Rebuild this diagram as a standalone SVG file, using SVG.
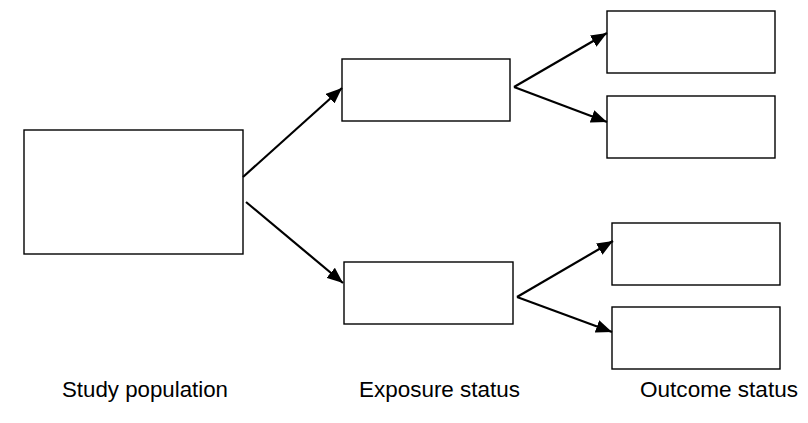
<svg xmlns="http://www.w3.org/2000/svg" width="808" height="423" viewBox="0 0 808 423">
<style>
.box{fill:#fff;stroke:#000;stroke-width:1.4}
.arr{stroke:#000;stroke-width:2.2;fill:none;marker-end:url(#ah)}
.lbl{font-family:"Liberation Sans",Arial,sans-serif;font-size:21.5px;fill:#000}
</style>
<defs>
<marker id="ah" markerUnits="userSpaceOnUse" markerWidth="17" markerHeight="13" refX="16" refY="6.5" orient="auto">
<path d="M0,0 L16,6.5 L0,13 Z" fill="#000"/>
</marker>
</defs>
<rect width="808" height="423" fill="#fff"/>
<g id="study"><rect class="box" x="24" y="130" width="219" height="124"/></g>
<g id="exp1"><rect class="box" x="342" y="59" width="168" height="62"/></g>
<g id="exp2"><rect class="box" x="344" y="262" width="169" height="62"/></g>
<g id="out1"><rect class="box" x="607" y="11" width="168" height="62"/></g>
<g id="out2"><rect class="box" x="607" y="96" width="168" height="62"/></g>
<g id="out3"><rect class="box" x="612" y="223" width="168" height="62"/></g>
<g id="out4"><rect class="box" x="612" y="307" width="168" height="62"/></g>
<g id="connectors">
<line class="arr" x1="243" y1="177" x2="342" y2="88"/>
<line class="arr" x1="246" y1="202" x2="343" y2="283"/>
<line class="arr" x1="514" y1="87" x2="607" y2="33"/>
<line class="arr" x1="514" y1="87" x2="607" y2="122"/>
<line class="arr" x1="517" y1="297" x2="613" y2="241"/>
<line class="arr" x1="517" y1="297" x2="612" y2="332"/>
</g>
<g id="labels">
<text class="lbl" x="62" y="397" textLength="166" lengthAdjust="spacingAndGlyphs">Study population</text>
<text class="lbl" x="359" y="397" textLength="161" lengthAdjust="spacingAndGlyphs">Exposure status</text>
<text class="lbl" x="640" y="397" textLength="158" lengthAdjust="spacingAndGlyphs">Outcome status</text>
</g>
</svg>
